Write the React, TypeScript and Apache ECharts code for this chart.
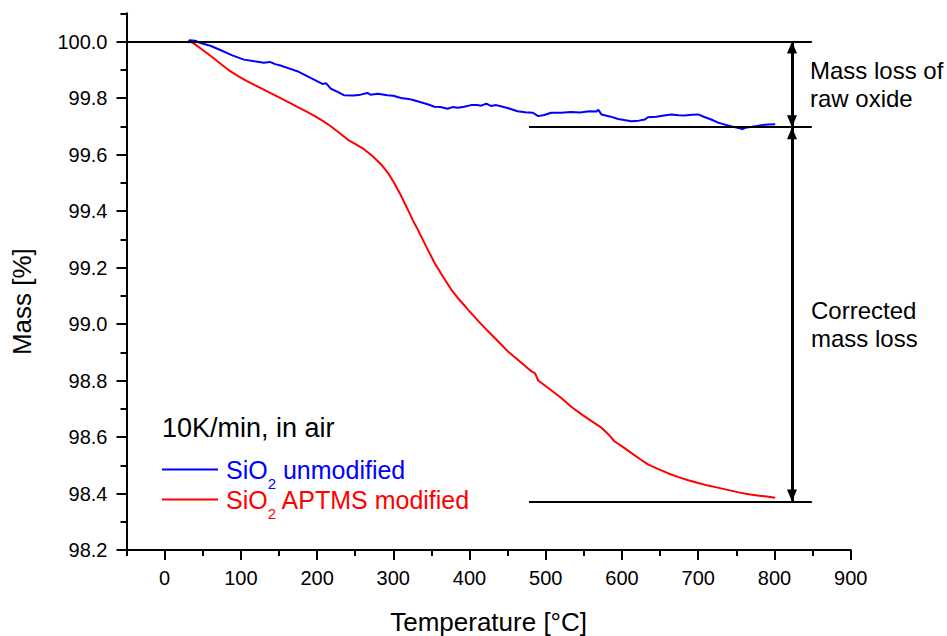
import React, { useEffect, useRef } from "react";
import * as echarts from "echarts";

const FONT = "'Liberation Sans', Arial, Helvetica, sans-serif";

// Axis ticks
const xMajorTicks = [0, 100, 200, 300, 400, 500, 600, 700, 800, 900];
const xMinorTicks = [-50, 50, 150, 250, 350, 450, 550, 650, 750, 850];
const yMajorTicks = [98.2, 98.4, 98.6, 98.8, 99.0, 99.2, 99.4, 99.6, 99.8, 100.0];
const yMinorTicks = [98.3, 98.5, 98.7, 98.9, 99.1, 99.3, 99.5, 99.7, 99.9, 100.1];

// SiO2 unmodified
const blueT = [30, 33, 40, 47, 60, 73, 88, 104, 118, 130, 138, 145, 152, 163, 174, 185, 196, 207, 212, 218, 227, 235, 248, 257, 266, 270, 280, 292, 300, 310, 320, 327, 336, 345, 354, 362, 371, 378, 385, 393, 402, 410, 415, 422, 428, 435, 441, 452, 463, 473, 483, 490, 498, 507, 520, 533, 545, 557, 566, 569, 573, 584, 595, 603, 612, 622, 630, 634, 645, 655, 665, 674, 682, 692, 700, 708, 717, 726, 735, 744, 753, 758, 762, 770, 777, 783, 792, 801];
const blueMass = [99.995, 100.005, 100.003, 99.995, 99.985, 99.97, 99.952, 99.936, 99.93, 99.925, 99.928, 99.92, 99.915, 99.905, 99.895, 99.88, 99.865, 99.85, 99.852, 99.833, 99.822, 99.81, 99.809, 99.812, 99.818, 99.812, 99.815, 99.81, 99.808, 99.8, 99.797, 99.792, 99.785, 99.778, 99.769, 99.768, 99.762, 99.768, 99.766, 99.769, 99.775, 99.775, 99.773, 99.78, 99.772, 99.775, 99.771, 99.763, 99.753, 99.75, 99.748, 99.736, 99.74, 99.748, 99.748, 99.751, 99.749, 99.753, 99.752, 99.758, 99.742, 99.735, 99.726, 99.722, 99.718, 99.72, 99.724, 99.732, 99.734, 99.738, 99.742, 99.739, 99.738, 99.741, 99.742, 99.733, 99.724, 99.713, 99.706, 99.699, 99.694, 99.69, 99.695, 99.698, 99.701, 99.704, 99.706, 99.707];

// SiO2 APTMS modified
const redT = [34, 40, 50, 64, 75, 86, 97, 108, 119, 130, 141, 152, 163, 174, 185, 196, 207, 218, 229, 240, 251, 262, 273, 284, 293, 301, 310, 319, 326, 332, 343, 354, 365, 376, 387, 398, 411, 424, 437, 450, 466, 481, 486, 490, 505, 520, 533, 547, 560, 573, 582, 590, 601, 612, 623, 634, 647, 661, 674, 687, 700, 713, 727, 740, 753, 766, 780, 790, 801];
const redMass = [100.0, 99.99, 99.97, 99.942, 99.918, 99.895, 99.877, 99.86, 99.845, 99.83, 99.815, 99.8, 99.785, 99.769, 99.754, 99.738, 99.72, 99.7, 99.677, 99.653, 99.636, 99.618, 99.594, 99.565, 99.535, 99.5, 99.455, 99.405, 99.365, 99.335, 99.275, 99.217, 99.168, 99.122, 99.085, 99.051, 99.012, 98.975, 98.94, 98.904, 98.867, 98.833, 98.825, 98.8, 98.77, 98.739, 98.708, 98.68, 98.656, 98.633, 98.61, 98.585, 98.565, 98.544, 98.523, 98.503, 98.487, 98.471, 98.458, 98.447, 98.437, 98.428, 98.42, 98.412, 98.404, 98.397, 98.392, 98.389, 98.385];

// Reference levels and annotation arrows (data coordinates)
const levelStart = 100.0;
const levelRaw = 99.697;
const levelModified = 98.372;
const refLineLongFrom = -50;
const refLineShortFrom = 478;
const refLineTo = 849;
const arrowT = 823;

export default function App() {
  const ref = useRef<HTMLDivElement>(null);

  useEffect(() => {
    if (!ref.current) return;
    const chart = echarts.init(ref.current, undefined, { renderer: "svg" });

    const zip = (a: number[], b: number[]) => a.map((v, i) => [v, b[i]]);
    const tickStyle = { color: "#000", width: 2 };
    const head = { symbol: "triangle", symbolSize: [10, 12], symbolOffset: [0, 6] };

    const option: any = {
      animation: false,
      backgroundColor: "#fff",
      textStyle: { fontFamily: FONT },
      grid: { left: 126.5, right: 96.3, top: 13.3, bottom: 86, containLabel: false, outerBoundsMode: "none" },
      xAxis: [
        {
          type: "value",
          min: -50,
          max: 900,
          position: "bottom",
          name: "Temperature [°C]",
          nameLocation: "middle",
          nameGap: 59,
          nameTextStyle: { fontSize: 26, color: "#000", fontFamily: FONT },
          axisLine: { onZero: false, lineStyle: { color: "#000", width: 2 } },
          axisTick: { customValues: xMajorTicks, length: 10, lineStyle: tickStyle },
          axisLabel: { customValues: xMajorTicks, fontSize: 20, color: "#000", margin: 18, fontFamily: FONT },
          splitLine: { show: false },
        },
        {
          type: "value",
          min: -50,
          max: 900,
          position: "bottom",
          axisLine: { show: false, onZero: false },
          axisTick: { customValues: xMinorTicks, length: 6, lineStyle: tickStyle },
          axisLabel: { show: false },
          splitLine: { show: false },
        },
      ],
      yAxis: [
        {
          type: "value",
          min: 98.2,
          max: 100.1,
          position: "left",
          name: "Mass [%]",
          nameLocation: "middle",
          nameGap: 92,
          nameTextStyle: { fontSize: 26, color: "#000", fontFamily: FONT, padding: [0, 40, 0, 0] },
          axisLine: { show: true, onZero: false, lineStyle: { color: "#000", width: 2 } },
          axisTick: { show: true, customValues: yMajorTicks, length: 10, lineStyle: tickStyle },
          axisLabel: {
            customValues: yMajorTicks,
            fontSize: 20,
            color: "#000",
            margin: 19,
            fontFamily: FONT,
            formatter: (v: number) => v.toFixed(1),
          },
          splitLine: { show: false },
        },
        {
          type: "value",
          min: 98.2,
          max: 100.1,
          position: "left",
          axisLine: { show: false, onZero: false },
          axisTick: { show: true, customValues: yMinorTicks, length: 6, lineStyle: tickStyle },
          axisLabel: { show: false },
          splitLine: { show: false },
        },
      ],
      series: [
        {
          name: "refs",
          type: "line",
          data: [],
          silent: true,
          markLine: {
            silent: true,
            animation: false,
            symbol: ["none", "none"],
            label: { show: false },
            emphasis: { disabled: true },
            lineStyle: { color: "#000", width: 2, type: "solid" },
            data: [
              [{ coord: [refLineLongFrom, levelStart] }, { coord: [refLineTo, levelStart] }],
              [{ coord: [refLineShortFrom, levelRaw] }, { coord: [refLineTo, levelRaw] }],
              [{ coord: [refLineShortFrom, levelModified] }, { coord: [refLineTo, levelModified] }],
            ],
          },
        },
        {
          name: "arrows",
          type: "line",
          data: [],
          silent: true,
          markLine: {
            silent: true,
            animation: false,
            symbol: ["triangle", "triangle"],
            label: { show: false },
            emphasis: { disabled: true },
            lineStyle: { color: "#000", width: 3, type: "solid" },
            itemStyle: { color: "#000" },
            data: [
              [{ coord: [arrowT, levelStart], ...head }, { coord: [arrowT, levelRaw], ...head }],
              [{ coord: [arrowT, levelRaw], ...head }, { coord: [arrowT, levelModified], ...head }],
            ],
          },
        },
        {
          name: "SiO2 unmodified",
          type: "line",
          data: zip(blueT, blueMass),
          showSymbol: false,
          symbol: "none",
          lineStyle: { color: "#0000ff", width: 2 },
          itemStyle: { color: "#0000ff" },
          z: 3,
        },
        {
          name: "SiO2 APTMS modified",
          type: "line",
          data: zip(redT, redMass),
          showSymbol: false,
          symbol: "none",
          lineStyle: { color: "#ff0000", width: 2 },
          itemStyle: { color: "#ff0000" },
          z: 3,
        },
      ],
      graphic: [
        {
          type: "text",
          x: 162,
          y: 427.5,
          style: { text: "10K/min, in air", fontSize: 27, fontFamily: FONT, fill: "#000", verticalAlign: "middle", align: "left" },
        },
        {
          type: "line",
          shape: { x1: 162, y1: 469.5, x2: 218, y2: 469.5 },
          style: { stroke: "#0000ff", lineWidth: 2 },
        },
        {
          type: "text",
          x: 226,
          y: 470,
          style: {
            text: "{m|SiO}{s|2}{m| unmodified}",
            verticalAlign: "middle",
            align: "left",
            rich: {
              m: { fontSize: 25, fontFamily: FONT, fill: "#0000ff" },
              s: { fontSize: 15, fontFamily: FONT, fill: "#0000ff", padding: [26, 0, 0, 0] },
            },
          },
        },
        {
          type: "line",
          shape: { x1: 162, y1: 499.5, x2: 218, y2: 499.5 },
          style: { stroke: "#ff0000", lineWidth: 2 },
        },
        {
          type: "text",
          x: 226,
          y: 500,
          style: {
            text: "{m|SiO}{s|2}{m| APTMS modified}",
            verticalAlign: "middle",
            align: "left",
            rich: {
              m: { fontSize: 25, fontFamily: FONT, fill: "#ff0000" },
              s: { fontSize: 15, fontFamily: FONT, fill: "#ff0000", padding: [26, 0, 0, 0] },
            },
          },
        },
        {
          type: "text",
          x: 810,
          y: 84.5,
          style: { text: "Mass loss of\nraw oxide", fontSize: 24, lineHeight: 28, fontFamily: FONT, fill: "#000", verticalAlign: "middle", align: "left" },
        },
        {
          type: "text",
          x: 811,
          y: 324,
          style: { text: "Corrected\nmass loss", fontSize: 24, lineHeight: 28, fontFamily: FONT, fill: "#000", verticalAlign: "middle", align: "left" },
        },
      ],
    };

    chart.setOption(option);
    return () => chart.dispose();
  }, []);

  return <div ref={ref} style={{ width: 947, height: 636, position: "absolute", left: 0, top: 0 }} />;
}
